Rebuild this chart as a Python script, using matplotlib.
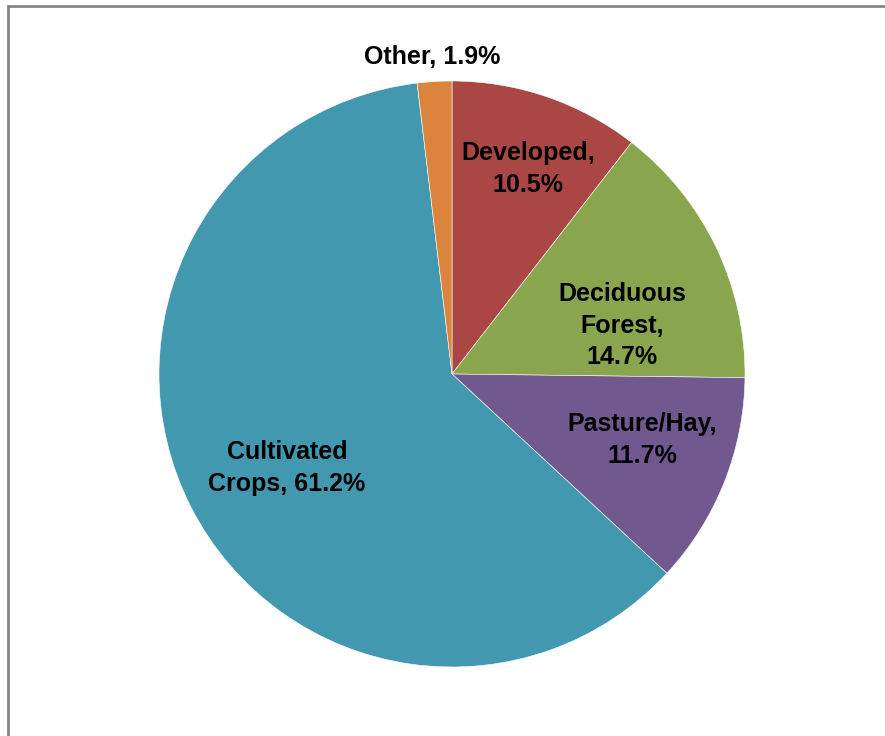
import matplotlib
matplotlib.use("Agg")
import matplotlib.pyplot as plt
from matplotlib.patches import Rectangle

# land cover shares, clockwise from 12 o'clock
categories = ["Developed", "Deciduous\nForest", "Pasture/Hay", "Cultivated\nCrops", "Other"]
shares = [10.5, 14.7, 11.7, 61.2, 1.9]
label_text = ["Developed,\n10.5%", "Deciduous\nForest,\n14.7%", "Pasture/Hay,\n11.7%",
              "Cultivated\nCrops, 61.2%", "Other, 1.9%"]

colors = ["#AA4644", "#89A54E", "#71588F", "#4198AF", "#DB843D"]
# label centres in pie units (radius = 1)
label_pos = [(0.26, 0.70), (0.58, 0.165), (0.648, -0.225), (-0.563, -0.32), (-0.068, 1.082)]

fig = plt.figure(figsize=(8.85, 7.36), dpi=100)
fig.patches.append(Rectangle((7.5 / 885, -0.1), 1.2, 1.1 - 5.5 / 736, transform=fig.transFigure,
                             fill=False, edgecolor="#868686", linewidth=2))

ax = fig.add_axes([159 / 885, 69 / 736, 586 / 885, 586 / 736])
wedges, _ = ax.pie(shares, colors=colors, startangle=90, counterclock=False,
                   wedgeprops={"edgecolor": "white", "linewidth": 0.4})
for txt, (x, y) in zip(label_text, label_pos):
    ax.text(x, y, txt, ha="center", va="center", fontsize=18, fontweight="bold",
            family="Liberation Sans", linespacing=1.4, color="black")
ax.set_xlim(-1, 1)
ax.set_ylim(-1, 1)
ax.set_aspect("equal")
ax.axis("off")

fig.savefig("out.png", dpi=100)
